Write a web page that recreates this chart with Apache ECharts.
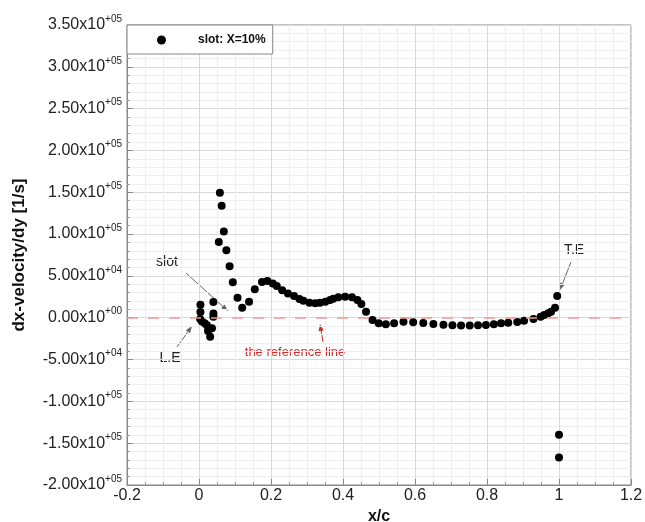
<!DOCTYPE html>
<html>
<head>
<meta charset="utf-8">
<script src="https://cdn.jsdelivr.net/npm/echarts@6/dist/echarts.min.js"></script>
<style>
html,body{margin:0;padding:0;background:#fff;}
#c{width:645px;height:522px;}
</style>
</head>
<body>
<div id="c"></div>
<script>
// x/c positions
const xs = [0.004,0.004,0.003,0.008,0.016,0.022,0.025,0.031,0.036,0.040,0.040,0.040,
  0.055,0.058,0.063,0.069,0.076,0.085,0.094,0.107,0.120,0.139,0.155,0.175,0.190,0.205,
  0.216,0.231,0.247,0.264,0.279,0.290,0.307,0.323,0.336,0.351,0.364,0.373,0.387,0.406,
  0.425,0.440,0.451,0.464,0.482,0.499,0.519,0.542,0.568,0.595,0.623,0.651,0.679,0.704,
  0.728,0.752,0.775,0.797,0.819,0.839,0.859,0.884,0.903,0.929,0.949,0.959,0.970,0.978,
  0.989,0.995,1.000,1.000];
// dx-velocity/dy values [1/s]
const ys = [15500,6800,-1500,-4500,-6500,-9000,-16000,-22700,-12500,1200,5200,18800,
  90500,149500,134000,103000,80600,61500,42300,24000,12000,19000,34000,42700,44000,41000,
  38000,33000,29000,26000,22400,20300,18000,17200,18000,19000,21200,22700,24400,25000,
  24400,21200,16400,7200,-2700,-6700,-7900,-6700,-4800,-5500,-6300,-7500,-8400,-9100,
  -9300,-9400,-9100,-8700,-7900,-6700,-6000,-5100,-3600,-1600,1200,3200,5300,7200,
  12000,26000,-140000,-167000];
const seriesName = 'slot: X=10%';
const xTicks = {min:-0.2, max:1.2, interval:0.2};
const yTicks = {min:-200000, max:350000, interval:50000};

const chart = echarts.init(document.getElementById('c'), null, {renderer:'canvas'});
const data = xs.map((x,i)=>[x, ys[i]]);

function sci(v){
  if (v === 0) return '{m|0.00x10}{e|+00}';
  const a = Math.abs(v);
  let e = Math.floor(Math.log10(a) + 1e-9);
  let m = v / Math.pow(10, e);
  const es = (e >= 0 ? '+' : '-') + String(Math.abs(e)).padStart(2,'0');
  return '{m|' + m.toFixed(2) + 'x10}{e|' + es + '}';
}
function xfmt(v){
  const r = Math.round(v*10)/10;
  return String(r);
}

const FONT = '"Liberation Sans", Arial, sans-serif';
function arrow(x1,y1,x2,y2,color){
  const ang = Math.atan2(y2-y1, x2-x1);
  const L = 7, W = 2.6;
  const bx = x2 - L*Math.cos(ang), by = y2 - L*Math.sin(ang);
  const px = -Math.sin(ang)*W, py = Math.cos(ang)*W;
  return [
    {type:'line', shape:{x1:x1,y1:y1,x2:bx,y2:by}, style:{stroke:color, lineWidth:1}, silent:true},
    {type:'polygon', shape:{points:[[x2,y2],[bx+px,by+py],[bx-px,by-py]]}, style:{fill:color}, silent:true}
  ];
}
function txt(x,y,t,color,size){
  return {type:'text', x:x, y:y, style:{text:t, fill:color, font: size+'px '+FONT, align:'center', verticalAlign:'middle'}, silent:true};
}
const grey = '#666';
const red = '#d42a2a';
const graphics = [].concat(
  [txt(167,262,'slot','#222',14)], arrow(186,273,228,311,grey),
  [txt(170,358,'L.E','#222',14)], arrow(177,347,192,326,grey),
  [txt(574,250,'T.E','#222',14)], arrow(571,262,560,290,grey),
  [txt(295,352,'the reference line',red,13)], arrow(323,342,320,324,red)
);

chart.setOption({
  animation:false,
  backgroundColor:'#fff',
  textStyle:{fontFamily:FONT},
  grid:{left:127, right:14, top:25, bottom:37, show:true, borderColor:'#888', borderWidth:1, containLabel:false, outerBoundsMode:'none'},
  legend:{
    left:127, top:25, orient:'horizontal',
    backgroundColor:'#fff',
    borderColor:'#888', borderWidth:1,
    padding:[9,7,8,30],
    itemWidth:9, itemHeight:9, icon:'circle',
    textStyle:{fontSize:12, fontWeight:'bold', color:'#111', fontFamily:FONT, padding:[0,0,0,27]},
    data:[seriesName]
  },
  xAxis:{
    type:'value', min:xTicks.min, max:xTicks.max, interval:xTicks.interval,
    name:'x/c', nameLocation:'middle', nameGap:16,
    nameTextStyle:{fontSize:16, fontWeight:'bold', color:'#111', fontFamily:FONT},
    axisLine:{show:true, onZero:false, lineStyle:{color:'#888'}},
    axisTick:{show:true, inside:true, length:6, lineStyle:{color:'#888'}},
    minorTick:{show:true, splitNumber:4, length:3, lineStyle:{color:'#999'}},
    axisLabel:{fontSize:16, color:'#222', margin:3, formatter:xfmt, fontFamily:FONT},
    splitLine:{show:true, lineStyle:{color:'#d9d9d9', width:1}},
    minorSplitLine:{show:true, lineStyle:{color:'#eeeeee', width:1}}
  },
  yAxis:{
    type:'value', min:yTicks.min, max:yTicks.max, interval:yTicks.interval,
    name:'dx-velocity/dy [1/s]', nameLocation:'middle', nameGap:99, nameRotate:90,
    nameTextStyle:{fontSize:17, fontWeight:'bold', color:'#111', fontFamily:FONT},
    axisLine:{show:true, onZero:false, lineStyle:{color:'#888'}},
    axisTick:{show:true, inside:true, length:6, lineStyle:{color:'#888'}},
    minorTick:{show:true, splitNumber:5, length:3, lineStyle:{color:'#999'}},
    axisLabel:{
      color:'#222', margin:5, formatter:sci,
      rich:{
        m:{fontSize:16, lineHeight:22, color:'#222', fontFamily:FONT},
        e:{fontSize:10, lineHeight:10, verticalAlign:'top', color:'#222', fontFamily:FONT}
      }
    },
    splitLine:{show:true, lineStyle:{color:'#d9d9d9', width:1}},
    minorSplitLine:{show:true, lineStyle:{color:'#eeeeee', width:1}}
  },
  series:[{
    name:seriesName, type:'scatter', data:data,
    symbol:'circle', symbolSize:8,
    itemStyle:{color:'#000', opacity:1},
    markLine:{
      silent:true, symbol:'none', label:{show:false},
      lineStyle:{color:'#ee9a9a', type:[11,10], width:1.5},
      data:[{yAxis:0}]
    },
    z:3
  }],
  graphic:graphics
});
</script>
</body>
</html>
